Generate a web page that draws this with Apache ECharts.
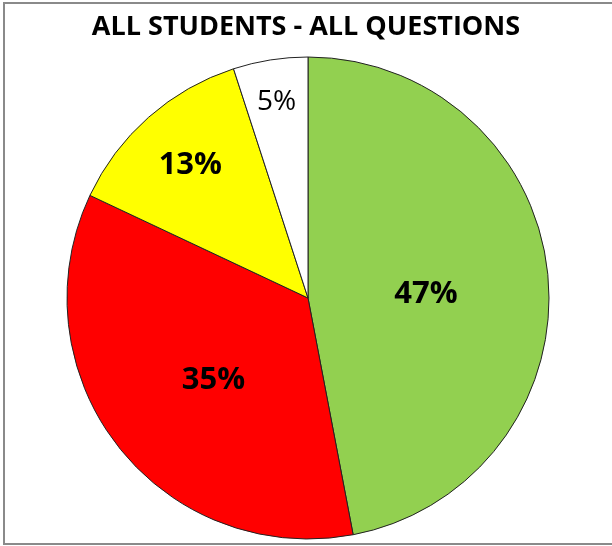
<!DOCTYPE html>
<html><head><meta charset="utf-8">
<script src="https://cdn.jsdelivr.net/npm/echarts@6/dist/echarts.min.js"></script>
<style>html,body{margin:0;padding:0;background:#fff}#c{width:612px;height:546px}</style>
</head><body><div id="c"></div>
<script>
var categories = ['Green', 'Red', 'Yellow', 'White'];
var values = [47, 35, 13, 5];
var labels = ['47%', '35%', '13%', '5%'];
var colors = ['#92D050', '#FF0000', '#FFFF00', '#FFFFFF'];
var labelShift = [[-5, 8], [3, 6], [-36, -40], [-12, -74]];
var labelWeight = ['bold', 'bold', 'bold', 'normal'];

var chart = echarts.init(document.getElementById('c'), null, {renderer: 'canvas'});
chart.setOption({
  animation: false,
  backgroundColor: '#fff',
  title: {
    text: 'ALL STUDENTS - ALL QUESTIONS',
    left: 'center', top: 9,
    textStyle: {fontFamily: 'Open Sans', fontWeight: 'bold', fontSize: 27, color: '#000'}
  },
  graphic: [{
    type: 'rect', shape: {x: 4, y: 3, width: 640, height: 541},
    style: {fill: 'none', stroke: '#8a8a8a', lineWidth: 2}, silent: true, z: 100
  }],
  series: [{
    type: 'pie',
    center: [308, 298],
    radius: [0, 241],
    startAngle: 90,
    clockwise: true,
    avoidLabelOverlap: false,
    itemStyle: {borderColor: '#222', borderWidth: 1},
    label: {
      position: 'inside', color: '#000', fontFamily: 'Open Sans', fontSize: 31,
      formatter: function (p) { return labels[p.dataIndex]; }
    },
    labelLayout: function (p) {
      return {dx: labelShift[p.dataIndex][0], dy: labelShift[p.dataIndex][1]};
    },
    data: categories.map(function (c, i) {
      return {name: c, value: values[i], itemStyle: {color: colors[i]},
        label: {fontWeight: labelWeight[i], fontSize: labelWeight[i] === 'bold' ? 31 : 28}};
    })
  }]
});
</script></body></html>
